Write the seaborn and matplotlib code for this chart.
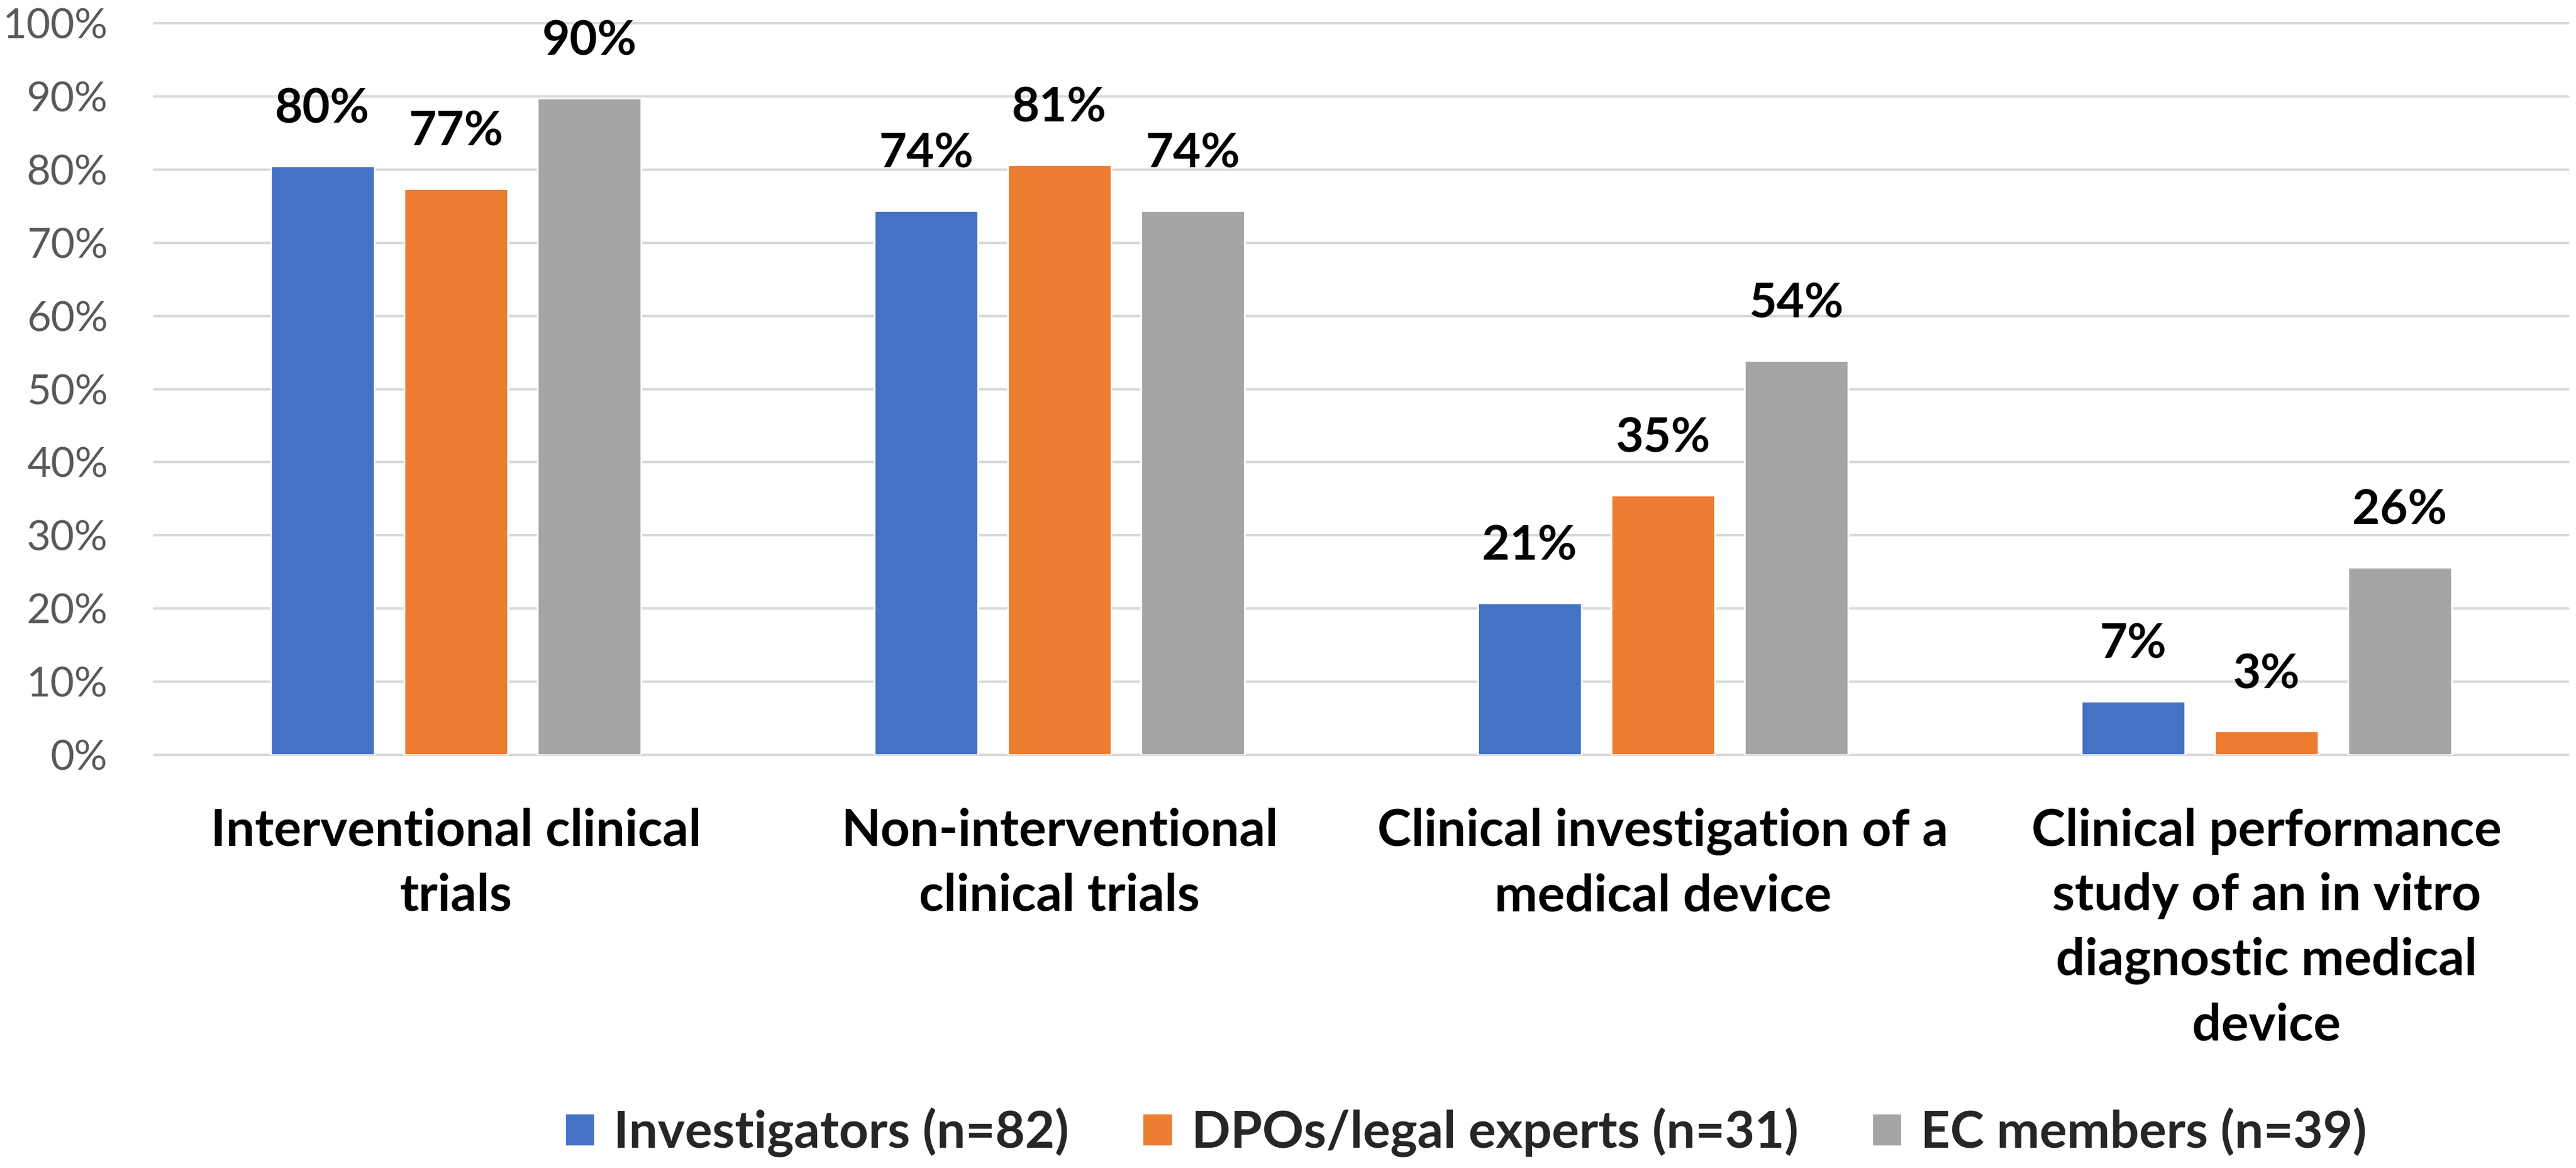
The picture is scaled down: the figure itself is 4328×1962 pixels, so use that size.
import matplotlib
matplotlib.use("Agg")
import matplotlib.pyplot as plt
import seaborn as sns
import pandas as pd

# categories (x axis) and respondent groups (hue)
categories = [
    "Interventional clinical\ntrials",
    "Non-interventional\nclinical trials",
    "Clinical investigation of a\nmedical device",
    "Clinical performance\nstudy of an in vitro\ndiagnostic medical\ndevice",
]
groups = ["Investigators (n=82)", "DPOs/legal experts (n=31)", "EC members (n=39)"]

# share of respondents (%) per group, one value per category
investigators = [80.49, 74.39, 20.73, 7.32]
dpos_legal = [77.42, 80.65, 35.48, 3.23]
ec_members = [89.74, 74.36, 53.85, 25.64]

colors = ["#4472C4", "#ED7D31", "#A5A5A5"]
yticks = [0, 10, 20, 30, 40, 50, 60, 70, 80, 90, 100]

df = pd.DataFrame({
    "category": categories * 3,
    "group": [groups[0]] * 4 + [groups[1]] * 4 + [groups[2]] * 4,
    "value": investigators + dpos_legal + ec_members,
})

sns.set_theme(style="white")
plt.rcParams["font.family"] = ["Lato", "DejaVu Sans"]

fig = plt.figure(figsize=(21.64, 9.81), dpi=200)
ax = fig.add_axes([0.0598, 0.3537, 0.9372, 0.6264])

sns.barplot(data=df, x="category", y="value", hue="group", order=categories,
            hue_order=groups, palette=colors, width=0.663, gap=0.224,
            saturation=1, ax=ax)

ax.set_ylim(0, 100)
ax.set_xlim(-0.5, 3.5)
ax.set_yticks(yticks)
ax.set_yticklabels([f"{t}%" for t in yticks])
ax.set_xlabel("")
ax.set_ylabel("")

# gridlines like excel
ax.set_axisbelow(True)
ax.yaxis.grid(True, color="#D9D9D9", linewidth=1.5)
for gl in ax.get_ygridlines():
    gl.set_clip_on(False)
ax.xaxis.grid(False)
sns.despine(ax=ax, left=True, bottom=True)

ax.tick_params(axis="y", length=0, pad=28, labelsize=25, labelcolor="#595959")
ax.tick_params(axis="x", length=0, pad=32, labelsize=31)
for lbl in ax.get_xticklabels():
    lbl.set_fontweight("bold")
    lbl.set_color("black")
    lbl.set_linespacing(1.46)
    lbl.set_multialignment("center")

# value labels on top of bars
for cont in ax.containers:
    ax.bar_label(cont, labels=[f"{v:.0f}%" for v in cont.datavalues],
                 padding=21, fontsize=29, fontweight="bold", color="black")

handles, labels = ax.get_legend_handles_labels()
ax.get_legend().remove()
fig.legend(handles, labels, loc="center", bbox_to_anchor=(0.569, 0.0306),
           ncol=3, frameon=False, prop={"size": 31, "weight": "bold"},
           handlelength=0.59, handleheight=0.62, handletextpad=0.37,
           columnspacing=1.43, borderpad=0)

fig.savefig("out.png", dpi=200)
